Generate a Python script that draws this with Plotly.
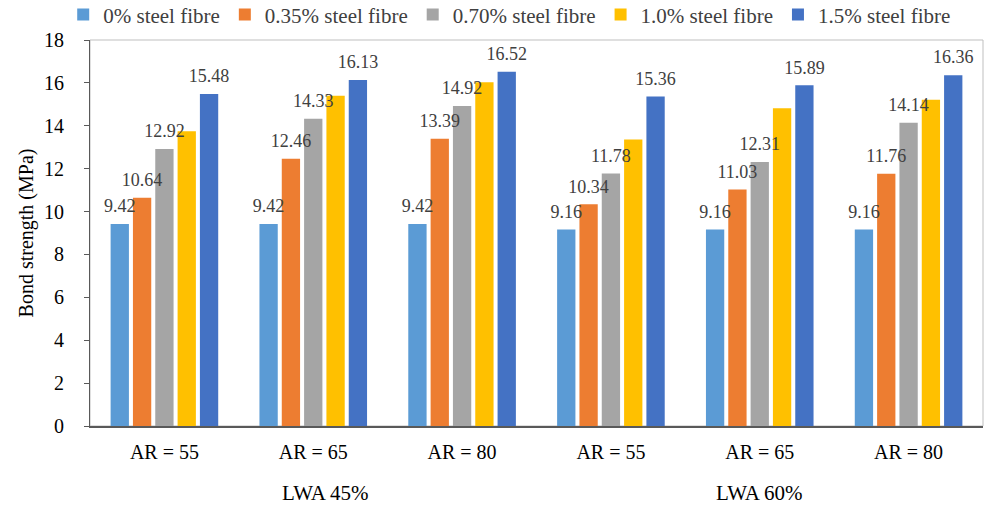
import plotly.graph_objects as go

# bond strength (MPa) for each aspect ratio / LWA content
groups = ['AR = 55', 'AR = 65', 'AR = 80', 'AR = 55', 'AR = 65', 'AR = 80']
series_names = ['0% steel fibre', '0.35% steel fibre', '0.70% steel fibre',
                '1.0% steel fibre', '1.5% steel fibre']
sf_0 = [9.42, 9.42, 9.42, 9.16, 9.16, 9.16]
sf_035 = [10.64, 12.46, 13.39, 10.34, 11.03, 11.76]
sf_070 = [12.92, 14.33, 14.92, 11.78, 12.31, 14.14]
sf_10 = [13.75, 15.40, 16.03, 13.36, 14.82, 15.21]   # no labels on this series
sf_15 = [15.48, 16.13, 16.52, 15.36, 15.89, 16.36]
group_labels = ['LWA 45%', 'LWA 60%']

colors = ['#5B9BD5', '#ED7D31', '#A5A5A5', '#FFC000', '#4472C4']
values = [sf_0, sf_035, sf_070, sf_10, sf_15]
show_text = [True, True, True, False, True]

font = 'Liberation Serif'
xpos = list(range(len(groups)))

data = []
for name, vals, col in zip(series_names, values, colors):
    data.append(go.Bar(
        x=xpos,
        y=vals,
        name=name,
        marker=dict(color=col, line=dict(width=0)),
    ))

# value labels, grouped like the bars so they sit over them with a gap
for name, vals, lab in zip(series_names, values, show_text):
    data.append(go.Scatter(
        x=xpos,
        y=vals,
        mode='markers+text',
        marker=dict(size=10, opacity=0),
        text=['%.2f' % v for v in vals] if lab else None,
        textposition='top center',
        textfont=dict(family=font, size=18, color='#404040'),
        showlegend=False,
        hoverinfo='skip',
        cliponaxis=False,
    ))

layout = go.Layout(
    width=986,
    height=507,
    margin=dict(l=90, r=3, t=40, b=81, autoexpand=False),
    paper_bgcolor='white',
    plot_bgcolor='white',
    font=dict(family=font, size=18, color='#000000'),
    barmode='group',
    bargap=0.25,
    bargroupgap=0.18,
    scattermode='group',
    scattergap=0.25,
    showlegend=True,
    legend=dict(
        orientation='h',
        x=-0.03, xanchor='left',
        y=1.065, yanchor='middle',
        font=dict(family=font, size=21, color='#404040'),
        itemwidth=30,
        tracegroupgap=0,
    ),
    xaxis=dict(
        tickvals=xpos,
        ticktext=groups,
        range=[-0.5, len(groups) - 0.5],
        showline=True,
        linecolor='#595959',
        linewidth=1.5,
        ticks='',
        showgrid=False,
        zeroline=False,
        automargin=False,
        tickfont=dict(family=font, size=20),
        ticklabelstandoff=7,
    ),
    yaxis=dict(
        title=dict(text='Bond strength (MPa)', font=dict(family=font, size=20), standoff=5),
        range=[0, 18],
        dtick=2,
        showline=True,
        linecolor='#595959',
        linewidth=1,
        ticks='outside',
        ticklen=5,
        tickcolor='#595959',
        showgrid=False,
        zeroline=False,
        automargin=False,
        tickfont=dict(family=font, size=20),
        ticklabelstandoff=16,
    ),
    shapes=[dict(type='rect', xref='paper', yref='paper', x0=0, x1=1, y0=0, y1=1,
                 line=dict(color='#BFBFBF', width=1), layer='below')],
    annotations=[
        dict(x=1.08, y=-0.174, xref='x', yref='paper', text=group_labels[0],
             showarrow=False, yanchor='middle', font=dict(family=font, size=21)),
        dict(x=4.0, y=-0.174, xref='x', yref='paper', text=group_labels[1],
             showarrow=False, yanchor='middle', font=dict(family=font, size=21)),
    ],
)

fig = go.Figure(data=data, layout=layout)
# drop the default page margin so the figure sits at the window corner
fig.write_html('out.html', config={'displayModeBar': False},
               post_script="document.body.style.margin='0';")
